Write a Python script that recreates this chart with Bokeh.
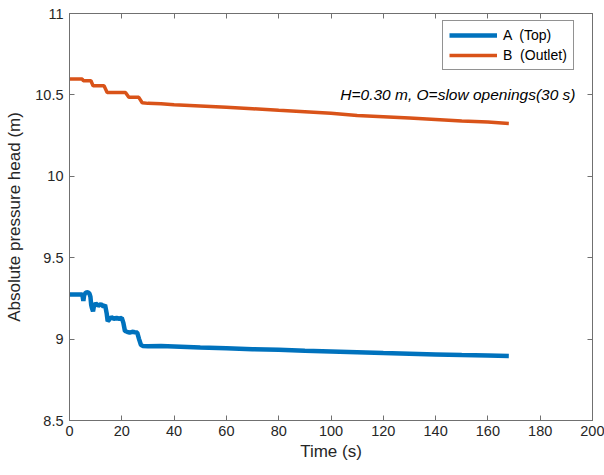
from bokeh.plotting import figure
from bokeh.models import LinearAxis, FixedTicker, Legend, LegendItem, Label, Range1d
from bokeh.embed import file_html
from bokeh.resources import INLINE

# ---- data ----
t_a = [0, 2, 4, 4.9, 5.3, 5.6, 6.2, 7.0, 7.6, 8.0, 8.3, 8.6, 9.0, 9.3, 10, 11, 12, 13,
       13.6, 14.2, 14.6, 15.2, 16, 17, 18, 19, 20, 20.6, 21.2, 22, 23, 24, 25, 25.9,
       26.6, 27.3, 28, 30, 35, 40, 50, 60, 70, 80, 90, 100, 110, 120, 130, 140, 150,
       160, 168]
h_a = [9.274, 9.274, 9.274, 9.274, 9.235, 9.27, 9.285, 9.288, 9.28, 9.26, 9.21, 9.19,
       9.17, 9.20, 9.22, 9.205, 9.215, 9.20, 9.21, 9.16, 9.11, 9.12, 9.135, 9.125,
       9.13, 9.125, 9.13, 9.10, 9.05, 9.045, 9.04, 9.045, 9.042, 9.04, 9.00, 8.965,
       8.958, 8.956, 8.957, 8.955, 8.948, 8.944, 8.938, 8.934, 8.928, 8.924, 8.919,
       8.914, 8.910, 8.906, 8.902, 8.899, 8.896]

t_b = [0, 4.9, 5.3, 8.2, 9.0, 13.2, 14.4, 21.4, 22.7, 26.5, 27.8, 30, 35, 40, 50, 60,
       70, 80, 90, 100, 110, 120, 130, 140, 150, 160, 168]
h_b = [10.597, 10.597, 10.587, 10.587, 10.556, 10.556, 10.515, 10.515, 10.485, 10.485,
       10.452, 10.448, 10.445, 10.44, 10.432, 10.424, 10.415, 10.405, 10.397, 10.388,
       10.374, 10.366, 10.358, 10.349, 10.34, 10.333, 10.325]

series_names = ["A  (Top)", "B  (Outlet)"]
x_ticks = [0, 20, 40, 60, 80, 100, 120, 140, 160, 180, 200]
y_ticks = [8.5, 9, 9.5, 10, 10.5, 11]
y_tick_labels = ["8.5", "9", "9.5", "10", "10.5", "11"]
annotation = "H=0.30 m, O=slow openings(30 s)"
annotation_pos = (193.5, 10.503)

FONT = "Liberation Sans"
AX = "#707070"
TXT = "#262626"

p = figure(width=604, height=475, output_backend="svg", toolbar_location=None,
           x_range=Range1d(0, 200), y_range=Range1d(8.5, 11),
           min_border_left=69, min_border_right=12, min_border_top=13, min_border_bottom=55)
p.xgrid.visible = False
p.ygrid.visible = False
p.outline_line_color = AX
p.outline_line_width = 1
p.background_fill_color = "white"
p.border_fill_color = "white"

la = p.line(t_a, h_a, line_color="#0072BD", line_width=4.5)
lb = p.line(t_b, h_b, line_color="#D95319", line_width=3.5)

def style(ax):
    ax.axis_line_color = AX
    ax.major_tick_line_color = AX
    ax.minor_tick_line_color = None
    ax.major_tick_in = 5
    ax.major_tick_out = 0
    ax.major_label_text_font = FONT
    ax.major_label_text_color = TXT
    ax.major_label_text_font_size = "14.5px"
    ax.axis_label_text_font = FONT
    ax.axis_label_text_color = TXT
    ax.axis_label_text_font_size = "17px"
    ax.axis_label_text_font_style = "normal"

xa = p.xaxis[0]
xa.ticker = FixedTicker(ticks=x_ticks)
xa.axis_label = "Time (s)"
style(xa)
xa.major_label_standoff = 5
xa.axis_label_standoff = 3

ya = p.yaxis[0]
ya.ticker = FixedTicker(ticks=y_ticks)
ya.major_label_overrides = {float(v): s for v, s in zip(y_ticks, y_tick_labels)}
ya.axis_label = "Absolute pressure head (m)"
style(ya)
ya.major_label_standoff = 6
ya.axis_label_standoff = 8

# mirrored tick-only axes (box with inward ticks on all sides)
top = LinearAxis(ticker=FixedTicker(ticks=x_ticks))
style(top)
top.major_label_overrides = {float(v): "" for v in x_ticks}
top.major_label_standoff = 0
p.add_layout(top, "above")
right = LinearAxis(ticker=FixedTicker(ticks=y_ticks))
style(right)
right.major_label_overrides = {float(v): "" for v in y_ticks}
right.major_label_standoff = 0
p.add_layout(right, "right")

legend = Legend(items=[LegendItem(label=series_names[0], renderers=[la]),
                       LegendItem(label=series_names[1], renderers=[lb])],
                location=(373, 350))
legend.border_line_color = TXT
legend.border_line_width = 1
legend.background_fill_color = "white"
legend.background_fill_alpha = 1
legend.label_text_font = FONT
legend.label_text_font_size = "14px"
legend.label_text_color = "#000000"
legend.glyph_width = 48
legend.glyph_height = 16
legend.label_height = 16
legend.spacing = 4
legend.padding = 6
legend.margin = 0
legend.label_standoff = 6
p.add_layout(legend, "center")

lab = Label(x=annotation_pos[0], y=annotation_pos[1], text=annotation,
            text_align="right", text_baseline="middle", text_font=FONT,
            text_font_size="15.5px", text_font_style="italic", text_color="#000000")
p.add_layout(lab)

open("out.html", "w").write(file_html(p, INLINE))
